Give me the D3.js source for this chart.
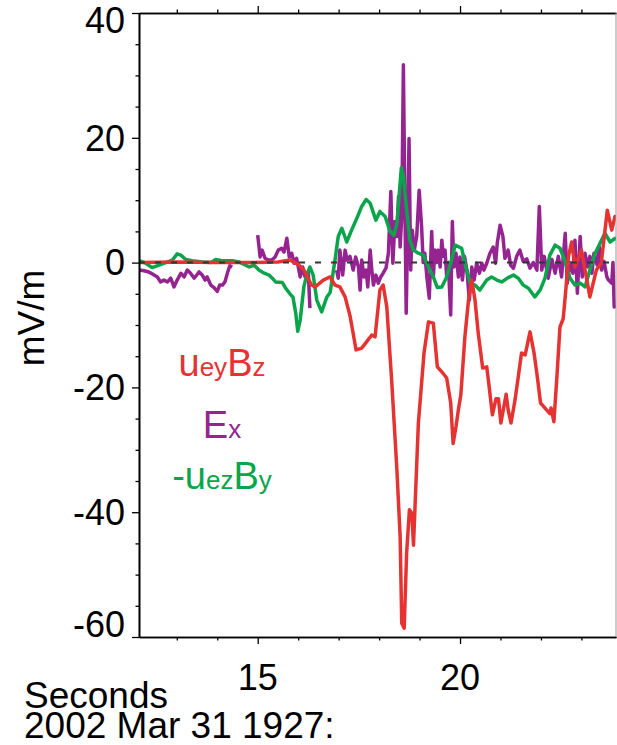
<!DOCTYPE html>
<html>
<head>
<meta charset="utf-8">
<script src="https://cdn.jsdelivr.net/npm/d3@7"></script>
<style>
  body { margin: 0; background: #fff; }
  text { font-family: "Liberation Sans", Arial, Helvetica, sans-serif; }
</style>
</head>
<body>
<div id="chart"></div>
<script>
// chart size and plot box
const width = 617;
const height = 745;
const plotLeft = 139;
const plotRight = 616;
const plotTop = 13;
const plotBottom = 637;

// colours
const red = "#e53332";
const purple = "#952491";
const green = "#0aa54b";

// u_ey B_z   [seconds, mV/m]
const uBz = [
  [12.07,0],[13.0,0.1],[14.0,0],[14.93,0],[15.5,0.1],[15.80,0.4],[16.0,-0.3],[16.14,-1.2],
  [16.33,-3.6],[16.42,-3.9],[16.62,-2.8],[16.79,-2.3],[16.91,-3.6],[17.03,-3.9],[17.16,-5.5],
  [17.28,-8.5],[17.35,-11],[17.43,-14],[17.57,-13.7],[17.69,-12.7],[17.82,-11.6],[17.90,-11.9],
  [18.02,-4.4],[18.10,-3.6],[18.19,-7.1],[18.31,-18.8],[18.44,-33.2],[18.52,-43.9],[18.56,-57.8],
  [18.62,-58.6],[18.68,-46.6],[18.75,-39.6],[18.81,-40.2],[18.85,-45.3],[18.97,-25.8],[19.11,-14.5],
  [19.22,-9.5],[19.34,-9.7],[19.44,-16.7],[19.55,-17.5],[19.67,-18.5],[19.77,-22.5],[19.83,-29],
  [19.90,-26.3],[19.96,-23.6],[20.02,-21.2],[20.12,-11.9],[20.21,-6],[20.29,-2.8],[20.37,-6],
  [20.45,-11.3],[20.56,-16.9],[20.66,-16.7],[20.72,-19.9],[20.80,-24.4],[20.89,-21.8],[20.95,-21.8],
  [21.01,-25.7],[21.14,-21.1],[21.19,-23.6],[21.26,-25.7],[21.36,-22],[21.44,-18.3],[21.52,-14.5],
  [21.61,-14.8],[21.73,-11.1],[21.83,-14.5],[21.91,-18.3],[21.99,-22.5],[22.14,-23.6],[22.22,-24.2],
  [22.25,-23.3],[22.32,-25.5],[22.39,-18.8],[22.47,-10.3],[22.55,-9.0],[22.62,-4],[22.68,1],
  [22.76,3.3],[22.84,-0.7],[23.00,2.0],[23.21,-5.5],[23.37,-1.2],[23.49,-0.1],[23.64,8.4],
  [23.75,5.2],[23.83,7.4],[23.86,7.0]
];

// E_x (null = data gap)
const ex = [
  [12.07,-1.2],[12.19,-1.3],[12.31,-1.5],[12.44,-2.0],[12.52,-2.3],[12.60,-3.1],[12.68,-2.8],
  [12.77,-3.1],[12.85,-2.5],[12.93,-3.9],[13.01,-2.8],[13.10,-1.7],[13.18,-2.3],[13.26,-1.2],
  [13.34,-1.7],[13.43,-2.5],[13.55,-1.5],[13.63,-2.0],[13.70,-2.8],[13.75,-2.3],[13.84,-3.6],
  [13.92,-4.0],[14.00,-4.6],[14.06,-3.6],[14.13,-3.6],[14.19,-3.1],[14.25,-1.7],[14.31,-0.5],
  [14.37,-0.7],[14.6,null],
  [15.00,4.4],[15.06,0.9],[15.11,2.0],[15.18,0.7],[15.26,0.4],[15.35,0.4],[15.43,0.9],[15.51,2.0],
  [15.59,2.3],[15.65,1.7],[15.72,3.9],[15.78,0.9],[15.84,1.5],[15.90,-0.1],[15.96,0.7],[16.05,-2.3],
  [16.11,-0.7],[16.17,-2.3],[16.25,-1.5],[16.29,-7.3],[16.5,null],
  [16.95,-1.2],[16.99,-2.5],[17.03,2.0],[17.10,-2.0],[17.16,2.0],[17.21,0.4],[17.28,1.0],
  [17.36,-1.2],[17.42,0.9],[17.49,-0.7],[17.53,-4.4],[17.57,0.4],[17.63,-2.3],[17.68,-1.2],
  [17.72,-3.9],[17.78,2.0],[17.82,-1.2],[17.86,-3.6],[17.92,-2.0],[17.98,-3.3],[18.04,-2.3],
  [18.10,-1.7],[18.17,-0.9],[18.19,-0.1],[18.23,1.5],[18.29,11.4],[18.34,-0.1],[18.39,6.6],
  [18.44,4.2],[18.48,10.6],[18.52,2.5],[18.56,7.4],[18.60,31.7],[18.64,7.9],[18.67,-8.1],
  [18.70,3.1],[18.74,19.9],[18.78,-1.2],[18.82,5.2],[18.87,2.0],[18.93,4.2],[18.99,11.6],
  [19.05,5.8],[19.09,0.0],[19.13,1.5],[19.18,-2.3],[19.24,-5.7],[19.30,5.0],[19.34,-2.3],
  [19.38,2.0],[19.42,0.0],[19.46,2.0],[19.51,-0.7],[19.55,3.6],[19.59,1.0],[19.63,2.0],
  [19.67,-2.3],[19.71,0.0],[19.77,-8.4],[19.81,6.6],[19.85,-0.7],[19.90,1.5],[19.96,-2.3],
  [20.00,0.9],[20.06,-2.8],[20.11,1.0],[20.17,-1.2],[20.23,-6.0],[20.29,-0.7],[20.35,-2.8],
  [20.41,-0.1],[20.48,-1.7],[20.54,-0.1],[20.59,-1.2],[20.66,-0.1],[20.74,1.5],[20.82,2.5],
  [20.88,-0.1],[20.92,3.1],[20.99,6.0],[21.06,4.2],[21.11,0.7],[21.19,2.0],[21.25,-0.4],
  [21.32,-0.9],[21.40,1.0],[21.48,2.0],[21.56,0.2],[21.65,0.6],[21.73,-0.9],[21.81,0.0],
  [21.90,-1.2],[21.96,9.0],[22.02,-1.2],[22.08,1.0],[22.18,-2.5],[22.27,0.5],[22.35,-1.7],
  [22.43,1.0],[22.51,-2.3],[22.60,4.7],[22.65,-3.3],[22.72,0.0],[22.79,-1.7],[22.84,3.6],
  [22.90,-4.9],[22.97,4.2],[23.02,-2.3],[23.09,1.5],[23.15,-0.7],[23.21,1.0],[23.26,-1.7],
  [23.31,1.5],[23.39,-0.4],[23.44,2.5],[23.50,-1.2],[23.56,0.2],[23.63,-2.3],[23.67,-2.8],
  [23.75,-3.3],[23.78,0.0],[23.81,-7.1],[23.86,-6.8]
];

// -u_ez B_y
const uBy = [
  [12.07,0.3],[12.23,-0.1],[12.39,-0.8],[12.56,-0.4],[12.73,0],[12.89,0.4],[13.01,1.4],[13.10,1.2],
  [13.22,0.5],[13.38,0.3],[13.63,0.1],[13.84,0],[13.96,0.5],[14.12,0.3],[14.37,0.3],[14.54,0.1],
  [14.70,-0.4],[14.79,-0.7],[14.91,-0.4],[15.03,-1.2],[15.16,-1.7],[15.28,-2.0],[15.36,-2.5],
  [15.44,-3.1],[15.61,-3.2],[15.69,-4.1],[15.82,-5.2],[15.87,-5.5],[15.94,-8.1],[15.99,-11.0],
  [16.05,-9.2],[16.14,-3.9],[16.21,-2.0],[16.29,-0.7],[16.37,-2.0],[16.46,-6.0],[16.58,-7.9],
  [16.71,-5.5],[16.79,-4.8],[16.91,0.4],[16.99,4.2],[17.08,5.5],[17.20,3.3],[17.32,5.2],[17.45,7.1],
  [17.57,9.0],[17.68,10.1],[17.78,9.5],[17.92,6.8],[18.02,8.2],[18.15,7.4],[18.27,5.0],[18.37,4.4],
  [18.44,6.3],[18.55,15.2],[18.60,13.8],[18.68,8.4],[18.76,3.6],[18.85,2.0],[18.97,1.5],[19.09,1.2],
  [19.22,-0.7],[19.34,-2.3],[19.44,-4.0],[19.55,-3.9],[19.67,-2.3],[19.79,0.4],[19.88,2.8],
  [20.04,2.3],[20.12,-0.1],[20.25,-3.3],[20.37,-3.6],[20.49,-4.4],[20.66,-2.8],[20.78,-2.3],
  [20.91,-2.8],[21.03,-3.1],[21.19,-2.4],[21.32,-2.0],[21.44,-2.5],[21.56,-3.6],[21.69,-4.1],
  [21.85,-5.5],[21.98,-4.4],[22.10,-2.5],[22.22,1.2],[22.35,2.8],[22.47,2.3],[22.60,0.1],
  [22.72,-2.5],[22.84,-3.6],[22.97,-3.3],[23.09,-3.9],[23.21,-1.2],[23.34,1.5],[23.46,3.1],
  [23.58,4.7],[23.71,3.3],[23.83,3.9],[23.86,3.6]
];

// ticks and labels
const yMajor = [-60, -40, -20, 0, 20, 40];
const yMinor = [-55, -50, -45, -35, -30, -25, -15, -10, -5, 5, 10, 15, 25, 30, 35];
const yLabels = ["-60", "-40", "-20", "0", "20", "40"];
const xMajor = [15, 20];
const xMinor = [13, 14, 16, 17, 18, 19, 21, 22, 23];
const xLabels = ["15", "20"];
const yTitle = "mV/m";
const xTitle = ["Seconds", "2002 Mar 31 1927:"];

// legend: [text, subscript?]
const legendUBz = [["u", false], ["ey", true], ["B", false], ["z", true]];
const legendEx = [["E", false], ["x", true]];
const legendUBy = [["-u", false], ["ez", true], ["B", false], ["y", true]];

const svg = d3.select("#chart")
    .append("svg")
    .attr("width", width)
    .attr("height", height);

const x = d3.scaleLinear()
    .domain([12.066, 23.855])
    .range([plotLeft, plotRight]);

const y = d3.scaleLinear()
    .domain([-60, 40])
    .range([plotBottom, plotTop]);

svg.append("clipPath")
    .attr("id", "plot")
    .append("rect")
    .attr("x", plotLeft)
    .attr("y", plotTop)
    .attr("width", plotRight - plotLeft)
    .attr("height", plotBottom - plotTop);

const line = d3.line()
    .defined(d => d[1] !== null)
    .x(d => x(d[0]))
    .y(d => y(d[1]));

const curves = svg.append("g").attr("clip-path", "url(#plot)");

// draw order: E_x, then -u_ez B_y, then u_ey B_z on top
[[ex, purple], [uBy, green], [uBz, red]].forEach(function(s) {
    curves.append("path")
        .datum(s[0])
        .attr("d", line)
        .attr("fill", "none")
        .attr("stroke", s[1])
        .attr("stroke-width", 3.5)
        .attr("stroke-linejoin", "round");
});

// dashed zero line
svg.append("line")
    .attr("x1", plotLeft)
    .attr("x2", plotRight)
    .attr("y1", y(0))
    .attr("y2", y(0))
    .attr("stroke", "#333")
    .attr("stroke-width", 2)
    .attr("stroke-dasharray", "6,10");

// axes
function styleAxis(g) {
    g.select(".domain").attr("stroke", "#000").attr("stroke-width", 1.6);
    g.selectAll(".tick line").attr("stroke", "#000").attr("stroke-width", 1.3);
}

const leftAxis = svg.append("g").attr("transform", `translate(${plotLeft},0)`);
leftAxis.call(d3.axisLeft(y).tickValues(yMinor).tickSize(3.5).tickSizeOuter(0).tickFormat(""));
leftAxis.append("g").call(d3.axisLeft(y).tickValues(yMajor).tickSize(7).tickSizeOuter(0).tickFormat(""));
leftAxis.call(styleAxis);
leftAxis.selectAll("g").call(styleAxis);

[[plotTop, d3.axisTop], [plotBottom, d3.axisBottom]].forEach(function(a) {
    const g = svg.append("g").attr("transform", `translate(0,${a[0]})`);
    g.call(a[1](x).tickValues(xMinor).tickSize(3.5).tickSizeOuter(0).tickFormat(""));
    g.append("g").call(a[1](x).tickValues(xMajor).tickSize(7).tickSizeOuter(0).tickFormat(""));
    g.call(styleAxis);
    g.selectAll("g").call(styleAxis);
});

svg.append("line")
    .attr("x1", plotRight)
    .attr("x2", plotRight)
    .attr("y1", plotTop)
    .attr("y2", plotBottom)
    .attr("stroke", "#999")
    .attr("stroke-width", 1);

// tick labels (kept inside the picture at the ends)
const fontSize = 36;
svg.selectAll("text.ylab")
    .data(yMajor)
    .enter()
    .append("text")
    .attr("class", "ylab")
    .attr("x", plotLeft - 14)
    .attr("y", (d) => Math.max(20.5, Math.min(624.5, y(d))) + 12.8)
    .attr("text-anchor", "end")
    .attr("font-size", fontSize)
    .text((d, i) => yLabels[i]);

svg.selectAll("text.xlab")
    .data(xMajor)
    .enter()
    .append("text")
    .attr("class", "xlab")
    .attr("x", (d) => x(d))
    .attr("y", 690)
    .attr("text-anchor", "middle")
    .attr("font-size", fontSize)
    .text((d, i) => xLabels[i]);

svg.append("text")
    .attr("transform", "translate(44,318) rotate(-90)")
    .attr("text-anchor", "middle")
    .attr("font-size", 37)
    .text(yTitle);

xTitle.forEach(function(t, i) {
    svg.append("text")
        .attr("x", 24)
        .attr("y", 708 + i * 30)
        .attr("font-size", 37)
        .text(t);
});

// legend
[[legendUBz, red, 376], [legendEx, purple, 438], [legendUBy, green, 489]].forEach(function(item) {
    const t = svg.append("text")
        .attr("x", 222)
        .attr("y", item[2])
        .attr("text-anchor", "middle")
        .attr("fill", item[1]);
    item[0].forEach(function(p) {
        t.append("tspan")
            .attr("font-size", p[1] ? 26 : 38)
            .text(p[0]);
    });
});
</script>
</body>
</html>
